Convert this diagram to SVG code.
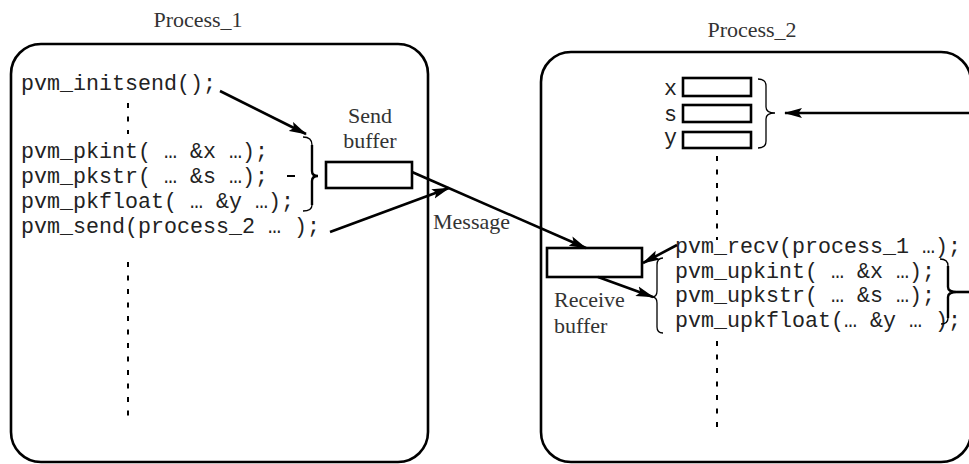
<svg xmlns="http://www.w3.org/2000/svg" width="969" height="464" viewBox="0 0 969 464">
  <defs>
    <marker id="arrow" viewBox="0 0 18 11" refX="17" refY="5.5" markerWidth="18" markerHeight="11" markerUnits="userSpaceOnUse" orient="auto">
      <path d="M0,0.5 L18,5.5 L0,10.5 L3.5,5.5 Z" fill="#000"/>
    </marker>
    <style>
      .frame { fill: none; stroke: #000; stroke-width: 2.6; }
      .buf { fill: #fff; stroke: #000; stroke-width: 2.6; }
      .title { font-family: "Liberation Serif", serif; font-size: 22px; fill: #333; }
      .label { font-family: "Liberation Serif", serif; font-size: 22px; fill: #333; }
      .code { font-family: "Liberation Mono", "Courier New", monospace; font-size: 21.67px; fill: #222; }
      .dots { fill: none; stroke: #000; stroke-width: 2; stroke-dasharray: 5 8.5; }
      .brace { fill: none; stroke: #000; stroke-width: 1.3; }
      .brace-bold { fill: none; stroke: #000; stroke-width: 2.4; }
      .conn { fill: none; stroke: #000; stroke-width: 2.6; }
      .tick { stroke: #000; stroke-width: 2; }
    </style>
  </defs>

  <rect width="969" height="464" fill="#fff"/>

  <!-- Sending process -->
  <g id="process_1">
    <text class="title" x="198" y="27" text-anchor="middle">Process_1</text>
    <rect class="frame" x="11" y="44" width="417" height="418" rx="30" ry="30"/>
    <text class="code" x="21" y="90">pvm_initsend();</text>
    <path class="dots" d="M128,103 V134"/>
    <text class="code" x="21" y="158">pvm_pkint( … &amp;x …);</text>
    <text class="code" x="21" y="183">pvm_pkstr( … &amp;s …);</text>
    <text class="code" x="21" y="208">pvm_pkfloat( … &amp;y …);</text>
    <text class="code" x="21" y="233">pvm_send(process_2 … );</text>
    <path class="dots" d="M128,262 V424"/>
    <line class="tick" x1="287" y1="176" x2="295" y2="176"/>
    <!-- brace grouping the pack calls -->
    <path class="brace" d="M303,137 Q312,137 312,145"/>
    <path class="brace-bold" d="M312,145 V171 Q312,176 318,176 Q312,176 312,181 V205"/>
    <path class="brace" d="M312,205 Q312,211 303,211"/>
  </g>

  <g id="send_buffer">
    <text class="label" x="370" y="123" text-anchor="middle">Send</text>
    <text class="label" x="370" y="148" text-anchor="middle">buffer</text>
    <rect class="buf" x="326" y="162" width="86" height="26"/>
  </g>

  <!-- Receiving process -->
  <g id="process_2">
    <text class="title" x="752" y="37" text-anchor="middle">Process_2</text>
    <rect class="frame" x="541" y="52" width="430" height="410" rx="30" ry="30"/>
    <text class="code" x="677" y="95" text-anchor="end">x</text>
    <text class="code" x="677" y="121" text-anchor="end">s</text>
    <text class="code" x="677" y="144" text-anchor="end">y</text>
    <rect class="buf" x="683" y="78" width="68" height="18"/>
    <rect class="buf" x="683" y="105" width="68" height="17"/>
    <rect class="buf" x="683" y="132" width="68" height="16"/>
    <!-- brace over the variables -->
    <path class="brace" d="M758,79 Q766,79 766,86 V107 Q766,113 775,113 Q766,113 766,119 V141 Q766,148 758,148"/>
    <path class="dots" d="M717,156 V240" stroke-width="2.6"/>
    <text class="code" x="675" y="253">pvm_recv(process_1 …);</text>
    <text class="code" x="675" y="278">pvm_upkint( … &amp;x …);</text>
    <text class="code" x="675" y="302">pvm_upkstr( … &amp;s …);</text>
    <text class="code" x="675" y="327">pvm_upkfloat(… &amp;y … );</text>
    <path class="dots" d="M717,341 V432" stroke-width="2.6"/>
    <!-- brace on the left of the unpack calls -->
    <path class="brace" d="M663,258 Q657,258 657,265 V291 Q657,297 652,297 Q657,297 657,303 V327 Q657,333 663,333"/>
    <!-- brace on the right of the unpack calls -->
    <path class="brace" d="M940,259 Q948,259 948,266"/>
    <path class="brace-bold" d="M948,266 V287 Q948,292 957,292 Q948,292 948,297 V318"/>
    <path class="brace" d="M948,318 Q948,324 941,324"/>
  </g>

  <g id="receive_buffer">
    <rect class="buf" x="547" y="248" width="95" height="29"/>
    <text class="label" x="554" y="307">Receive</text>
    <text class="label" x="554" y="333">buffer</text>
  </g>

  <g id="message_label">
    <text class="label" x="433" y="229">Message</text>
  </g>

  <!-- Connectors -->
  <g id="connectors">
    <line class="conn" x1="220" y1="91" x2="306" y2="134" marker-end="url(#arrow)"/>
    <line class="conn" x1="330" y1="232" x2="449" y2="188" marker-end="url(#arrow)"/>
    <line class="conn" x1="412" y1="172" x2="586" y2="248" marker-end="url(#arrow)"/>
    <line class="conn" x1="677" y1="245" x2="643" y2="263" marker-end="url(#arrow)"/>
    <line class="conn" x1="598" y1="277" x2="653" y2="297" marker-end="url(#arrow)"/>
    <line class="conn" x1="969" y1="113" x2="785" y2="113" marker-end="url(#arrow)"/>
    <line class="conn" x1="957" y1="292" x2="969" y2="292"/>
  </g>
</svg>
